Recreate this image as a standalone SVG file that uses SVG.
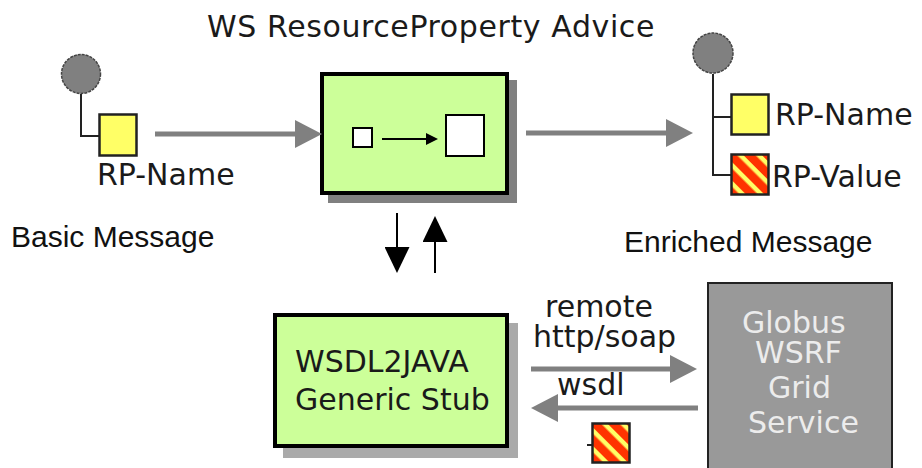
<svg xmlns="http://www.w3.org/2000/svg" width="922" height="468" viewBox="0 0 922 468">
<style>
.t{font-family:"DejaVu Sans",Verdana,sans-serif;font-size:30px;fill:#1a1a1a}
.c{font-family:"Liberation Sans",Arial,sans-serif;font-size:30px;fill:#111}
.w{font-family:"DejaVu Sans",Verdana,sans-serif;font-size:30px;fill:#ececec}
.green{fill:#ccff99;stroke:#000;stroke-width:4}
.yel{fill:#ffff66;stroke:#222;stroke-width:2.5}
.str{fill:url(#stripes);stroke:#222;stroke-width:2.5}
.msg{fill:#808080;stroke:#444;stroke-width:1.5;stroke-dasharray:3 1}
.tree{fill:none;stroke:#222;stroke-width:2}
.ga{fill:none;stroke:#808080;stroke-width:5;marker-end:url(#gh)}
.ba{fill:none;stroke:#000;stroke-width:2;marker-end:url(#bh)}
</style>
<defs>
<pattern id="stripes" patternUnits="userSpaceOnUse" width="13" height="13" patternTransform="rotate(45)">
<rect width="13" height="13" fill="#ff3300"/>
<rect width="13" height="4.5" fill="#ffff66"/>
</pattern>
<marker id="gh" viewBox="0 0 27 28" refX="7" refY="14" markerWidth="27" markerHeight="28" markerUnits="userSpaceOnUse" orient="auto">
<path d="M0,0 L27,14 L0,28 z" fill="#808080"/>
</marker>
<marker id="bh" viewBox="0 0 26 25" refX="6" refY="12.5" markerWidth="26" markerHeight="25" markerUnits="userSpaceOnUse" orient="auto">
<path d="M0,0 L26,12.5 L0,25 z" fill="#000"/>
</marker>
<marker id="sh" viewBox="0 0 12 12" refX="2" refY="6" markerWidth="12" markerHeight="12" markerUnits="userSpaceOnUse" orient="auto">
<path d="M0,0 L12,6 L0,12 z" fill="#000"/>
</marker>
</defs>
<rect width="922" height="468" fill="#fff"/>

<text class="t" x="207" y="37" letter-spacing="0.6">WS ResourceProperty Advice</text>

<g id="basic-message">
<circle class="msg" cx="81" cy="74" r="19.5"/>
<path class="tree" d="M81,94 V136 H99"/>
<rect class="yel" x="99.5" y="114.5" width="37" height="41"/>
<text class="t" x="97" y="185">RP-Name</text>
<text class="c" x="11" y="247">Basic Message</text>
</g>

<g id="advice">
<rect x="328" y="80" width="189" height="123" fill="#808080"/>
<rect class="green" x="322" y="74" width="185" height="119"/>
<rect x="353" y="128" width="19" height="19" fill="#fff" stroke="#000" stroke-width="2"/>
<path d="M382,139 H428" fill="none" stroke="#000" stroke-width="2" marker-end="url(#sh)"/>
<rect x="446" y="115" width="38" height="41" fill="#fff" stroke="#000" stroke-width="2"/>
</g>

<g id="enriched-message">
<circle class="msg" cx="713" cy="53" r="20"/>
<path class="tree" d="M713,74 V175 H731 M713,117 H731"/>
<rect class="yel" x="731.5" y="94.5" width="37" height="40"/>
<rect class="str" x="731.5" y="154.5" width="37" height="40"/>
<text class="t" x="775" y="125">RP-Name</text>
<text class="t" x="772" y="187">RP-Value</text>
<text class="c" x="624" y="252">Enriched Message</text>
</g>

<g id="wsdl2java">
<rect x="283" y="323" width="235" height="135" fill="#aaaaaa"/>
<rect class="green" x="275" y="315" width="232" height="131"/>
<text class="t" x="295" y="372">WSDL2JAVA</text>
<text class="t" x="295" y="410">Generic Stub</text>
</g>

<g id="globus">
<rect x="708" y="283" width="184" height="200" fill="#999999" stroke="#222" stroke-width="2"/>
<text class="w" x="742" y="333">Globus</text>
<text class="w" x="755" y="363">WSRF</text>
<text class="w" x="768" y="398">Grid</text>
<text class="w" x="748" y="433">Service</text>
</g>

<g id="value-token">
<path d="M587,445 H592" stroke="#222" stroke-width="2"/>
<rect class="str" x="592.5" y="423.5" width="37" height="39"/>
</g>

<g id="connectors">
<path class="ga" d="M155,134 H302"/>
<path class="ga" d="M526,133 H673"/>
<path class="ba" d="M397,213 V253"/>
<path class="ba" d="M435,273 V236"/>
<path class="ga" d="M531,369 H677"/>
<path class="ga" d="M698,408 H551"/>
<text class="t" x="545" y="317">remote</text>
<text class="t" x="533" y="347">http/soap</text>
<text class="t" x="557" y="395">wsdl</text>
</g>
</svg>
